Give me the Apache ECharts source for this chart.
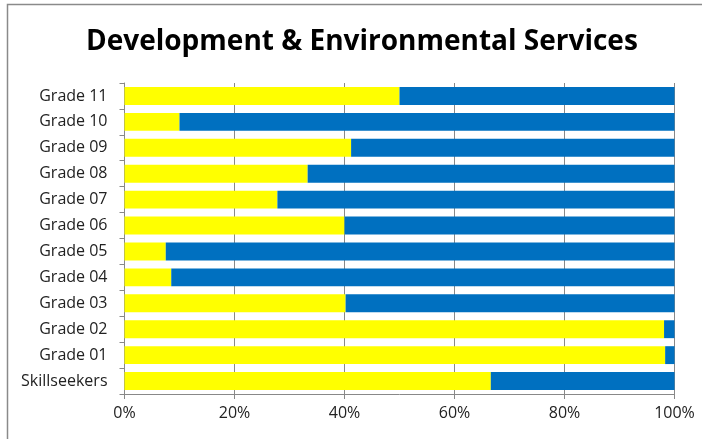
<!DOCTYPE html>
<html>
<head>
<meta charset="utf-8">
<script src="https://cdn.jsdelivr.net/npm/echarts@6/dist/echarts.min.js"></script>
<style>
  html, body { margin: 0; padding: 0; background: #fff; }
  #chart { width: 709px; height: 439px; }
</style>
</head>
<body>
<div id="chart"></div>
<script>
// Categories listed top to bottom
const categories = ['Grade 11', 'Grade 10', 'Grade 09', 'Grade 08', 'Grade 07', 'Grade 06',
  'Grade 05', 'Grade 04', 'Grade 03', 'Grade 02', 'Grade 01', 'Skillseekers'];
// Share of each row in percent
const yellowShare = [50, 10, 41.2, 33.3, 27.8, 40, 7.5, 8.5, 40.2, 98.1, 98.3, 66.6];
const blueShare = [50, 90, 58.8, 66.7, 72.2, 60, 92.5, 91.5, 59.8, 1.9, 1.7, 33.4];
const xTicks = [0, 20, 40, 60, 80, 100];

const chart = echarts.init(document.getElementById('chart'));
const labelFont = { fontFamily: 'Open Sans', fontSize: 16, color: '#222' };

chart.setOption({
  animation: false,
  backgroundColor: '#fff',
  title: {
    text: 'Development & Environmental Services',
    left: 81,
    top: 23,
    textStyle: { fontFamily: 'Open Sans', fontWeight: 'bold', fontSize: 28, color: '#000' }
  },
  graphic: [{
    // frame along the left and top edges
    type: 'polyline',
    shape: { points: [[7.5, 445], [7.5, 4.5], [702, 4.5]] },
    style: { fill: 'none', stroke: '#8a8a8a', lineWidth: 1.5 },
    silent: true
  }],
  grid: { left: 124.5, right: 34.5, top: 83, bottom: 45 },
  xAxis: {
    type: 'value',
    min: xTicks[0],
    max: xTicks[xTicks.length - 1],
    interval: 20,
    axisLine: { show: true, lineStyle: { color: '#888' } },
    axisTick: { show: true, length: 5, lineStyle: { color: '#888' } },
    splitLine: { show: true, lineStyle: { color: '#888', width: 1 } },
    axisLabel: Object.assign({ formatter: '{value}%', margin: 11 }, labelFont)
  },
  yAxis: {
    type: 'category',
    inverse: true,
    data: categories,
    axisLine: { show: true, lineStyle: { color: '#888' } },
    axisTick: { show: true, length: 5, lineStyle: { color: '#888' } },
    axisLabel: Object.assign({ margin: 17 }, labelFont)
  },
  series: [
    {
      name: 'Yellow',
      type: 'bar',
      stack: 'total',
      data: yellowShare,
      barCategoryGap: '31%',
      itemStyle: { color: '#FFFF00' }
    },
    {
      name: 'Blue',
      type: 'bar',
      stack: 'total',
      data: blueShare,
      barCategoryGap: '31%',
      itemStyle: { color: '#0070C0' }
    }
  ]
});
</script>
</body>
</html>
